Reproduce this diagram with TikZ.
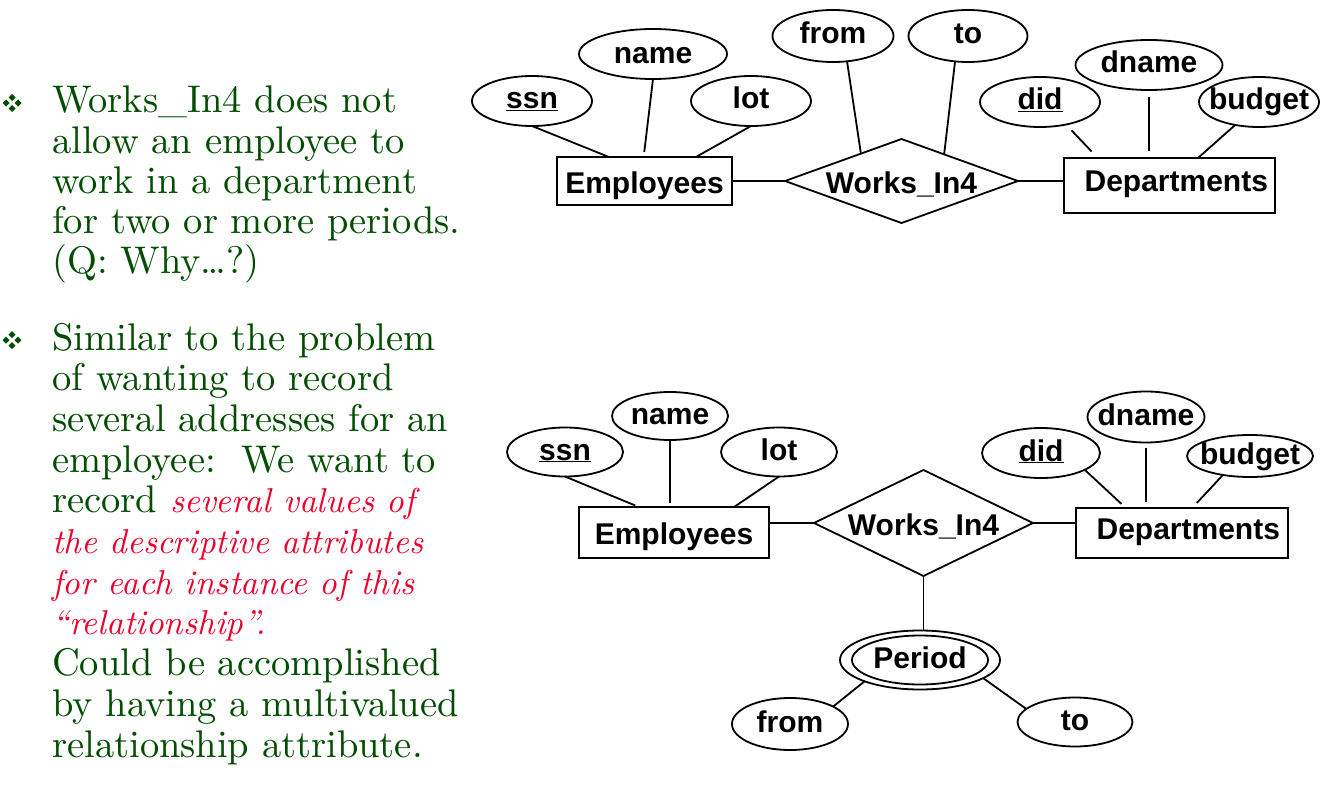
\documentclass[tikz,border=0pt]{standalone}
\usepackage{fontspec}
\setmainfont{lmroman10-regular.otf}[ItalicFont=lmroman10-italic.otf]
\newfontfamily\erfont{Liberation Sans}
\usetikzlibrary{shapes.geometric}
\definecolor{txtgreen}{RGB}{0,77,0}
\definecolor{txtred}{RGB}{235,0,45}
\newcommand{\quaddia}[2]{%
  \foreach \dx/\dy in {0/-5.5,-6/0,6/0,0/5.5}
    \fill[txtgreen] (#1+\dx,#2+\dy-3.5) -- ++(3.5,3.5) -- ++(-3.5,3.5) -- ++(-3.5,-3.5) -- cycle;}
\newcommand{\redit}{\fontsize{34.5}{44}\selectfont\itshape}
\tikzset{
  erlabel/.style={font=\erfont\bfseries\fontsize{30}{36}\selectfont},
  entity/.style={erlabel, draw, line width=1.8pt, rectangle, inner sep=0pt, outer sep=0pt, text height=24pt, text depth=0pt},
  relship/.style={erlabel, draw, line width=1.8pt, diamond, inner sep=0pt, outer sep=0pt, text height=24pt, text depth=0pt},
  attr/.style={erlabel, draw, line width=1.8pt, ellipse, inner sep=-8pt, outer sep=0pt, text height=22pt, text depth=6pt},
  link/.style={line width=1.8pt},
  txt/.style={anchor=base west, inner sep=0pt, text=txtgreen, font=\fontsize{38.5}{44}\selectfont},
  redtxt/.style={txt, text=txtred, font=\redit}
}
\begin{document}
\begin{tikzpicture}[x=1pt,y=-1pt]
		\fill[white] (0,0) rectangle (1326,808);
		\useasboundingbox (0,0) rectangle (1326,808);
		% bullet text
		\quaddia{12}{103}
		\node[txt] (a1) at (52,113) {Works\_In4 does not};
		\node[txt] (a2) at (52,153) {allow an employee to};
		\node[txt] (a3) at (52,193) {work in a department};
		\node[txt] (a4) at (52,233) {for two or more periods.};
		\node[txt] (a5) at (52,273) {(Q: Why\ldots?)};
		\quaddia{12}{340}
		\node[txt] (b1) at (52,350) {Similar to the problem};
		\node[txt] (b2) at (52,390.7) {of wanting to record};
		\node[txt] (b3) at (52,431.4) {several addresses for an};
		\node[txt] (b4) at (52,472.1) {employee:\ \ We want to};
		\node[txt] (b5) at (52,512.8) {record {\color{txtred}\redit several values of}};
		\node[redtxt] (b6) at (52,553.5) {the descriptive attributes};
		\node[redtxt] (b7) at (52,594.2) {for each instance of this};
		\node[redtxt] (b8) at (52,634.9) {``relationship''.};
		\node[txt] (b9) at (52,675.6) {Could be accomplished};
		\node[txt] (b10) at (52,716.3) {by having a multivalued};
		\node[txt] (b11) at (52,757) {relationship attribute.};
		% top diagram
		\node[entity, minimum width=175pt, minimum height=48pt] (emp1) at (644.5,181) {Employees};
		\node[relship, aspect=2.77, minimum width=233pt, minimum height=84pt] (rel1) at (901.5,181) {Works\_In4};
		\node[entity, minimum width=211pt, minimum height=55pt, text width=197pt, align=right, text depth=12pt] (dep1) at (1169.5,185.5) {Departments};
		\node[attr, minimum width=120pt, minimum height=50pt] (ssn1) at (532,101) {\underline{ssn}};
		\node[attr, minimum width=148pt, minimum height=50pt, text depth=2pt] (name1) at (653,54) {name};
		\node[attr, minimum width=120pt, minimum height=50pt] (lot1) at (751,101) {lot};
		\node[attr, minimum width=121pt, minimum height=52pt] (from1) at (833,36) {from};
		\node[attr, minimum width=119pt, minimum height=52pt] (to1) at (968,36) {to};
		\node[attr, minimum width=120pt, minimum height=50pt] (did1) at (1040,102) {\underline{did}};
		\node[attr, minimum width=147pt, minimum height=50pt] (dname1) at (1149,65) {dname};
		\node[attr, minimum width=120pt, minimum height=50pt] (budget1) at (1259,102) {budget};
		\draw[link] (ssn1.south) -- (emp1.146);
		\draw[link, shorten >=5pt] (name1.south) -- (emp1.92);
		\draw[link] (lot1.south) -- (emp1.25);
		\draw[link] (emp1.east) -- (rel1.west);
		\draw[link] (from1.-61) -- (rel1.146);
		\draw[link] (to1.-117) -- (rel1.32);
		\draw[link] (rel1.east) -- (rel1.east -| dep1.west);
		\draw[link, shorten <=8pt, shorten >=9pt] (did1.-41) -- (dep1.159);
		\draw[link, shorten <=7pt, shorten >=7pt] (dname1.south) -- (dname1.south |- dep1.north);
		\draw[link] (budget1.-136) -- (dep1.44);
		% bottom diagram
		\node[entity, minimum width=190pt, minimum height=51pt] (emp2) at (674,532.5) {Employees};
		\node[relship, aspect=2.07, minimum width=219pt, minimum height=106pt] (rel2) at (923.5,523) {Works\_In4};
		\node[entity, minimum width=212pt, minimum height=50pt, text width=196pt, align=right, text depth=12pt] (dep2) at (1182,533) {Departments};
		\node[attr, minimum width=116pt, minimum height=49pt] (ssn2) at (565,452) {\underline{ssn}};
		\node[attr, minimum width=116pt, minimum height=48pt] (name2) at (670,416) {name};
		\node[attr, minimum width=116pt, minimum height=49pt] (lot2) at (779,452) {lot};
		\node[attr, minimum width=118pt, minimum height=50pt] (did2) at (1041,453) {\underline{did}};
		\node[attr, minimum width=117pt, minimum height=51pt] (dname2) at (1146,417) {dname};
		\node[attr, minimum width=126pt, minimum height=42pt] (budget2) at (1250,456) {budget};
		\node[attr, minimum width=160pt, minimum height=59pt] (period) at (920,660) {};
		\node[attr, minimum width=136pt, minimum height=49pt] (periodin) at (period.center) {Period};
		\node[attr, minimum width=116pt, minimum height=52pt] (from2) at (790,724) {from};
		\node[attr, minimum width=115pt, minimum height=49pt] (to2) at (1075,722) {to};
		\draw[link, shorten >=4pt] (ssn2.south) -- (emp2.144);
		\draw[link, shorten >=4pt] (name2.south) -- (name2.south |- emp2.north);
		\draw[link] (lot2.south) -- (emp2.23);
		\draw[link] (rel2.west) -- (rel2.west -| emp2.east);
		\draw[link] (rel2.east) -- (rel2.east -| dep2.west);
		\draw[link, shorten >=6pt] (did2.-21) -- (dep2.156);
		\draw[link, shorten <=5pt, shorten >=6pt] (dname2.south) -- (dname2.south |- dep2.north);
		\draw[link, shorten >=7pt] (budget2.-145) -- (dep2.68);
		\draw[link] (rel2.south) -- (rel2.south |- period.north);
		\draw[link] (period.-159) -- (from2.22);
		\draw[link] (period.-16) -- (to2.165);
		
		\end{tikzpicture}
\end{document}
